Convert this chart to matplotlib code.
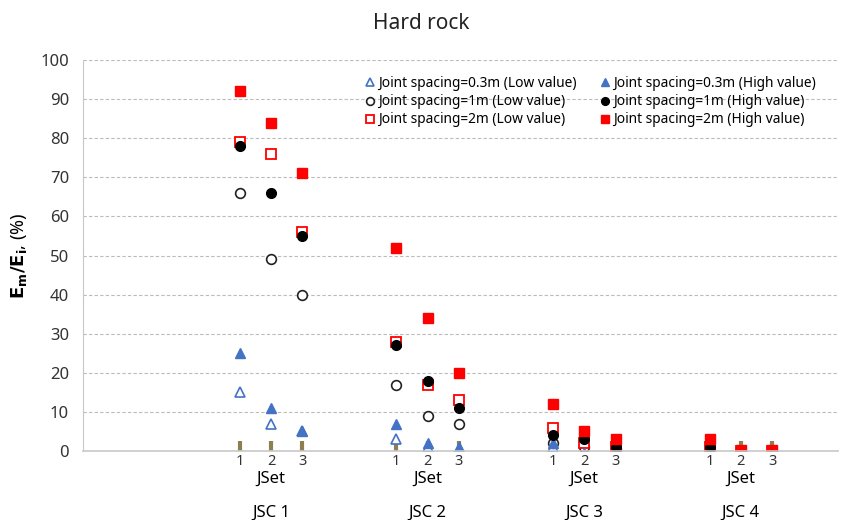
import numpy as np
import matplotlib.pyplot as plt
import matplotlib.transforms as mtransforms

plt.rcParams['font.family'] = ['Noto Sans', 'DejaVu Sans']

groups = ["JSC 1", "JSC 2", "JSC 3", "JSC 4"]
jsets = ["1", "2", "3"]

# Em/Ei (%) for JSet 1..3 within each JSC group, JSC 1 -> JSC 4
s03_low = [15, 7, 5, 3, 1, 0.5, 1, 0, 0, 0, 0, 0]
s03_high = [25, 11, 5, 7, 2, 1, 2, -0.5, -0.5, 0, 0, 0]
s1_low = [66, 49, 40, 17, 9, 7, 2, 1, 0.5, 0, 0, 0]
s1_high = [78, 66, 55, 27, 18, 11, 4, 3, 1, 1, 0, 0]
s2_low = [79, 76, 56, 28, 17, 13, 6, 2, 1, 1, 0, 0]
s2_high = [92, 84, 71, 52, 34, 20, 12, 5, 3, 3, 0.3, 0.3]

# x positions: 3 JSets per group, groups 5 units apart
xpos = np.array([5 * (g + 1) + j for g in range(len(groups)) for j in range(len(jsets))])

fig = plt.figure(figsize=(8.43, 5.20), dpi=100)
ax = fig.add_axes([0.0985, 0.1327, 0.8955, 0.7519])

blue = '#4472C4'
red = '#FF0000'
ax.plot(xpos, s03_low, '^', ms=7, mfc='white', mec=blue, mew=1.2, ls='none',
        label='Joint spacing=0.3m (Low value)')
ax.plot(xpos, s1_low, 'o', ms=7, mfc='white', mec='#222222', mew=1.2, ls='none',
        label='Joint spacing=1m (Low value)')
ax.plot(xpos, s2_low, 's', ms=7, mfc='white', mec=red, mew=1.3, ls='none',
        label='Joint spacing=2m (Low value)')
ax.plot(xpos, s03_high, '^', ms=7.5, color=blue, ls='none',
        label='Joint spacing=0.3m (High value)')
ax.plot(xpos, s1_high, 'o', ms=7, color='black', ls='none',
        label='Joint spacing=1m (High value)')
ax.plot(xpos, s2_high, 's', ms=7, color=red, ls='none',
        label='Joint spacing=2m (High value)')

ax.set_xlim(0, 24.1)
ax.set_ylim(0, 100)
ax.set_yticks(np.arange(0, 101, 10))
ax.yaxis.grid(True, ls=(0, (3, 2)), color='#BBBBBB', lw=0.8)
ax.set_axisbelow(True)
for side in ['top', 'right']:
    ax.spines[side].set_visible(False)
ax.spines['left'].set_color('#C8C8C8')
ax.spines['bottom'].set_color('#C8C8C8')
ax.spines['bottom'].set_linewidth(1.2)

ax.tick_params(axis='y', length=0, labelsize=12, colors='#333333', pad=10)
ax.set_xticks(xpos)
ax.set_xticklabels(jsets * len(groups))
ax.tick_params(axis='x', direction='in', length=7, width=3, color='#8C7F50',
               labelsize=10.5, labelcolor='#333333', pad=2)

trans = mtransforms.blended_transform_factory(ax.transData, ax.transAxes)
for g, name in enumerate(groups):
    cx = 5 * (g + 1) + 1
    ax.text(cx, -0.072, "JSet", transform=trans, ha='center', va='center', fontsize=12)
    ax.text(cx, -0.158, name, transform=trans, ha='center', va='center', fontsize=12)

ax.set_ylabel(r'$\mathbf{E_m/E_i}$, (%)', fontsize=13, fontweight='bold', labelpad=8)
fig.suptitle('Hard rock', x=0.5, y=0.975, fontsize=15, color='#222222')

ax.legend(loc='upper left', bbox_to_anchor=(0.355, 0.99), ncol=2, frameon=False,
          fontsize=9.9, handletextpad=0.05, columnspacing=1.6, labelspacing=0.22,
          handlelength=1.0, markerscale=0.8)

fig.savefig('out.png', dpi=100)
